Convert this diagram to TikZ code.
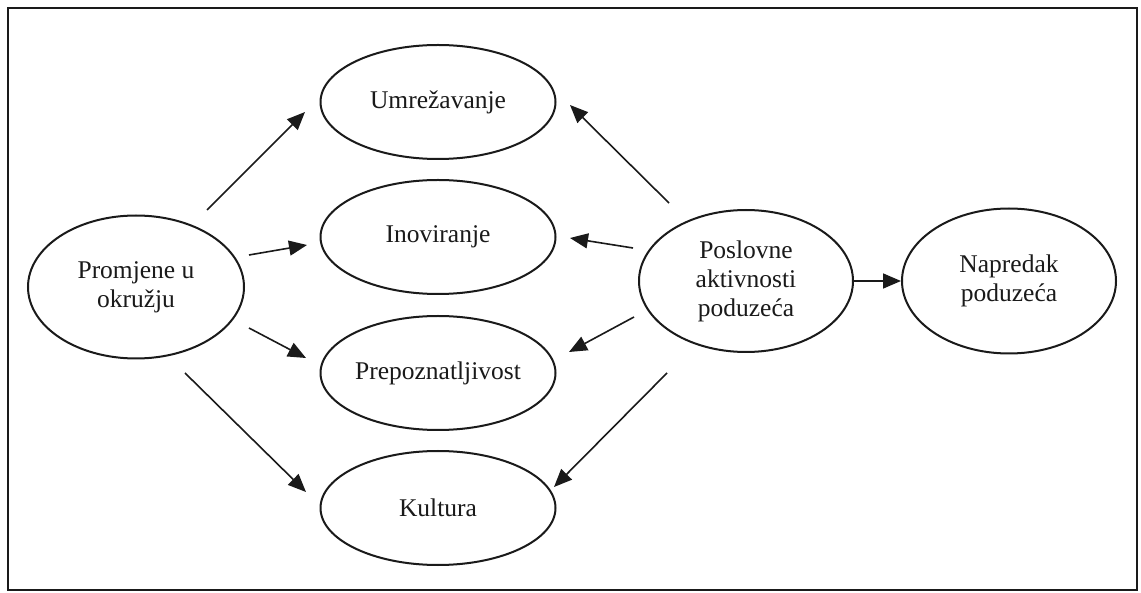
\documentclass[tikz,border=0pt]{standalone}
\usepackage{fontspec}
\setmainfont{Liberation Serif}
\usetikzlibrary{shapes.geometric,arrows.meta}
\definecolor{ink}{HTML}{1A1A1A}
\tikzset{
  oval/.style={ellipse,draw=ink,line width=2pt,inner sep=0pt,align=center,
    text=ink,font=\fontsize{25.5}{29}\selectfont},
  arr/.style={draw=ink,line width=1.6pt,-{Triangle[length=18pt,width=15pt]}}
}
\begin{document}
\begin{tikzpicture}[x=1pt,y=-1pt]
\useasboundingbox (0,0) rectangle (1141,593);
\fill[white] (0,0) rectangle (1141,593);
\draw[ink,line width=1.4pt] (8,8) rectangle (1137,590);
\node[oval,minimum width=235pt,minimum height=114pt] (umr) at (438,102) {Umrežavanje};
\node[oval,minimum width=235pt,minimum height=114pt] (inov) at (438,237) {Inoviranje};
\node[oval,minimum width=235pt,minimum height=114pt] (prep) at (438,373) {Prepoznatljivost};
\node[oval,minimum width=235pt,minimum height=114pt] (kult) at (438,508) {Kultura};
\node[oval,minimum width=216pt,minimum height=143pt] (prom) at (136,287) {Promjene u\\okružju};
\node[oval,minimum width=214pt,minimum height=142pt] (posl) at (746,281) {Poslovne\\aktivnosti\\poduzeća};
\node[oval,minimum width=214pt,minimum height=145pt] (napr) at (1009,281) {Napredak\\poduzeća};
% free arrow ends
\coordinate (a1) at (207,210); \coordinate (b1) at (305,112);
\coordinate (a2) at (249,255); \coordinate (b2) at (307,245);
\coordinate (a3) at (249,328); \coordinate (b3) at (306,358);
\coordinate (a4) at (185,373); \coordinate (b4) at (306,492);
\coordinate (a5) at (669,203); \coordinate (b5) at (570,105);
\coordinate (a6) at (633,248); \coordinate (b6) at (570,238);
\coordinate (a7) at (634,317); \coordinate (b7) at (569,352);
\coordinate (a8) at (667,373); \coordinate (b8) at (554,487);
\draw[arr] (a1) -- (b1);
\draw[arr] (a2) -- (b2);
\draw[arr] (a3) -- (b3);
\draw[arr] (a4) -- (b4);
\draw[arr] (a5) -- (b5);
\draw[arr] (a6) -- (b6);
\draw[arr] (a7) -- (b7);
\draw[arr] (a8) -- (b8);
\draw[arr] (posl.east) -- (napr.west);
\end{tikzpicture}
\end{document}
